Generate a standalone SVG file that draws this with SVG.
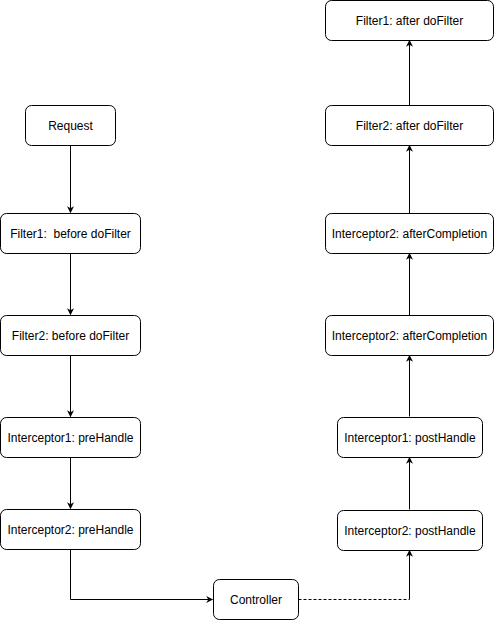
<svg xmlns="http://www.w3.org/2000/svg" width="494" height="620" viewBox="0 0 494 620">
<defs>
<style>
.box{fill:#fff;stroke:#000;stroke-width:1}
.t{font-family:"Liberation Sans",Arial,sans-serif;font-size:12px;fill:#000;text-anchor:middle;dominant-baseline:central}
.c{fill:none;stroke:#000;stroke-width:1}
</style>
<marker id="ah" viewBox="0 0 10 10" refX="9" refY="5" markerWidth="7" markerHeight="7" orient="auto" markerUnits="userSpaceOnUse">
<path d="M0,0 L10,5 L0,10 L3,5 Z" fill="#000"/>
</marker>
</defs>
<rect width="494" height="620" fill="#fff"/>
<g id="connectors">
<line class="c" x1="70.5" y1="145.5" x2="70.5" y2="212.5" marker-end="url(#ah)"/>
<line class="c" x1="70.5" y1="253.5" x2="70.5" y2="314.5" marker-end="url(#ah)"/>
<line class="c" x1="70.5" y1="355.5" x2="70.5" y2="416.5" marker-end="url(#ah)"/>
<line class="c" x1="70.5" y1="457.5" x2="70.5" y2="508.5" marker-end="url(#ah)"/>
<polyline class="c" points="70.5,549.5 70.5,599.5 212.5,599.5" marker-end="url(#ah)"/>
<line class="c" x1="298.5" y1="599.5" x2="409.5" y2="599.5" stroke-dasharray="3 2"/>
<line class="c" x1="409.5" y1="599.5" x2="409.5" y2="550.5" marker-end="url(#ah)"/>
<line class="c" x1="409.5" y1="509.5" x2="409.5" y2="457.5" marker-end="url(#ah)"/>
<line class="c" x1="409.5" y1="416.5" x2="409.5" y2="355.5" marker-end="url(#ah)"/>
<line class="c" x1="409.5" y1="315.5" x2="409.5" y2="253.5" marker-end="url(#ah)"/>
<line class="c" x1="409.5" y1="213.5" x2="409.5" y2="145.5" marker-end="url(#ah)"/>
<line class="c" x1="409.5" y1="105.5" x2="409.5" y2="40.5" marker-end="url(#ah)"/>
</g>
<g id="request"><rect class="box" x="25.5" y="105.5" width="90" height="40" rx="6"/><text class="t" x="70.5" y="125.5">Request</text></g>
<g id="filter1-before"><rect class="box" x="0.5" y="213.5" width="140" height="40" rx="6"/><text class="t" x="70.5" y="233.5" xml:space="preserve">Filter1:  before doFilter</text></g>
<g id="filter2-before"><rect class="box" x="0.5" y="315.5" width="140" height="40" rx="6"/><text class="t" x="70.5" y="335.5">Filter2: before doFilter</text></g>
<g id="interceptor1-pre"><rect class="box" x="0.5" y="417.5" width="140" height="40" rx="6"/><text class="t" x="70.5" y="437.5">Interceptor1: preHandle</text></g>
<g id="interceptor2-pre"><rect class="box" x="0.5" y="509.5" width="140" height="40" rx="6"/><text class="t" x="70.5" y="529.5">Interceptor2: preHandle</text></g>
<g id="controller"><rect class="box" x="213.5" y="579.5" width="85" height="40" rx="6"/><text class="t" x="256" y="599.5">Controller</text></g>
<g id="interceptor2-post"><rect class="box" x="337.5" y="510.5" width="145" height="40" rx="6"/><text class="t" x="410" y="530.5">Interceptor2: postHandle</text></g>
<g id="interceptor1-post"><rect class="box" x="337.5" y="417.5" width="145" height="40" rx="6"/><text class="t" x="410" y="437.5">Interceptor1: postHandle</text></g>
<g id="interceptor2-after-lower"><rect class="box" x="325.5" y="315.5" width="168" height="40" rx="6"/><text class="t" x="409.5" y="335.5">Interceptor2: afterCompletion</text></g>
<g id="interceptor2-after-upper"><rect class="box" x="325.5" y="213.5" width="168" height="40" rx="6"/><text class="t" x="409.5" y="233.5">Interceptor2: afterCompletion</text></g>
<g id="filter2-after"><rect class="box" x="325.5" y="105.5" width="168" height="40" rx="6"/><text class="t" x="409.5" y="125.5">Filter2: after doFilter</text></g>
<g id="filter1-after"><rect class="box" x="325.5" y="0.5" width="168" height="40" rx="6"/><text class="t" x="409.5" y="20.5">Filter1: after doFilter</text></g>
</svg>
